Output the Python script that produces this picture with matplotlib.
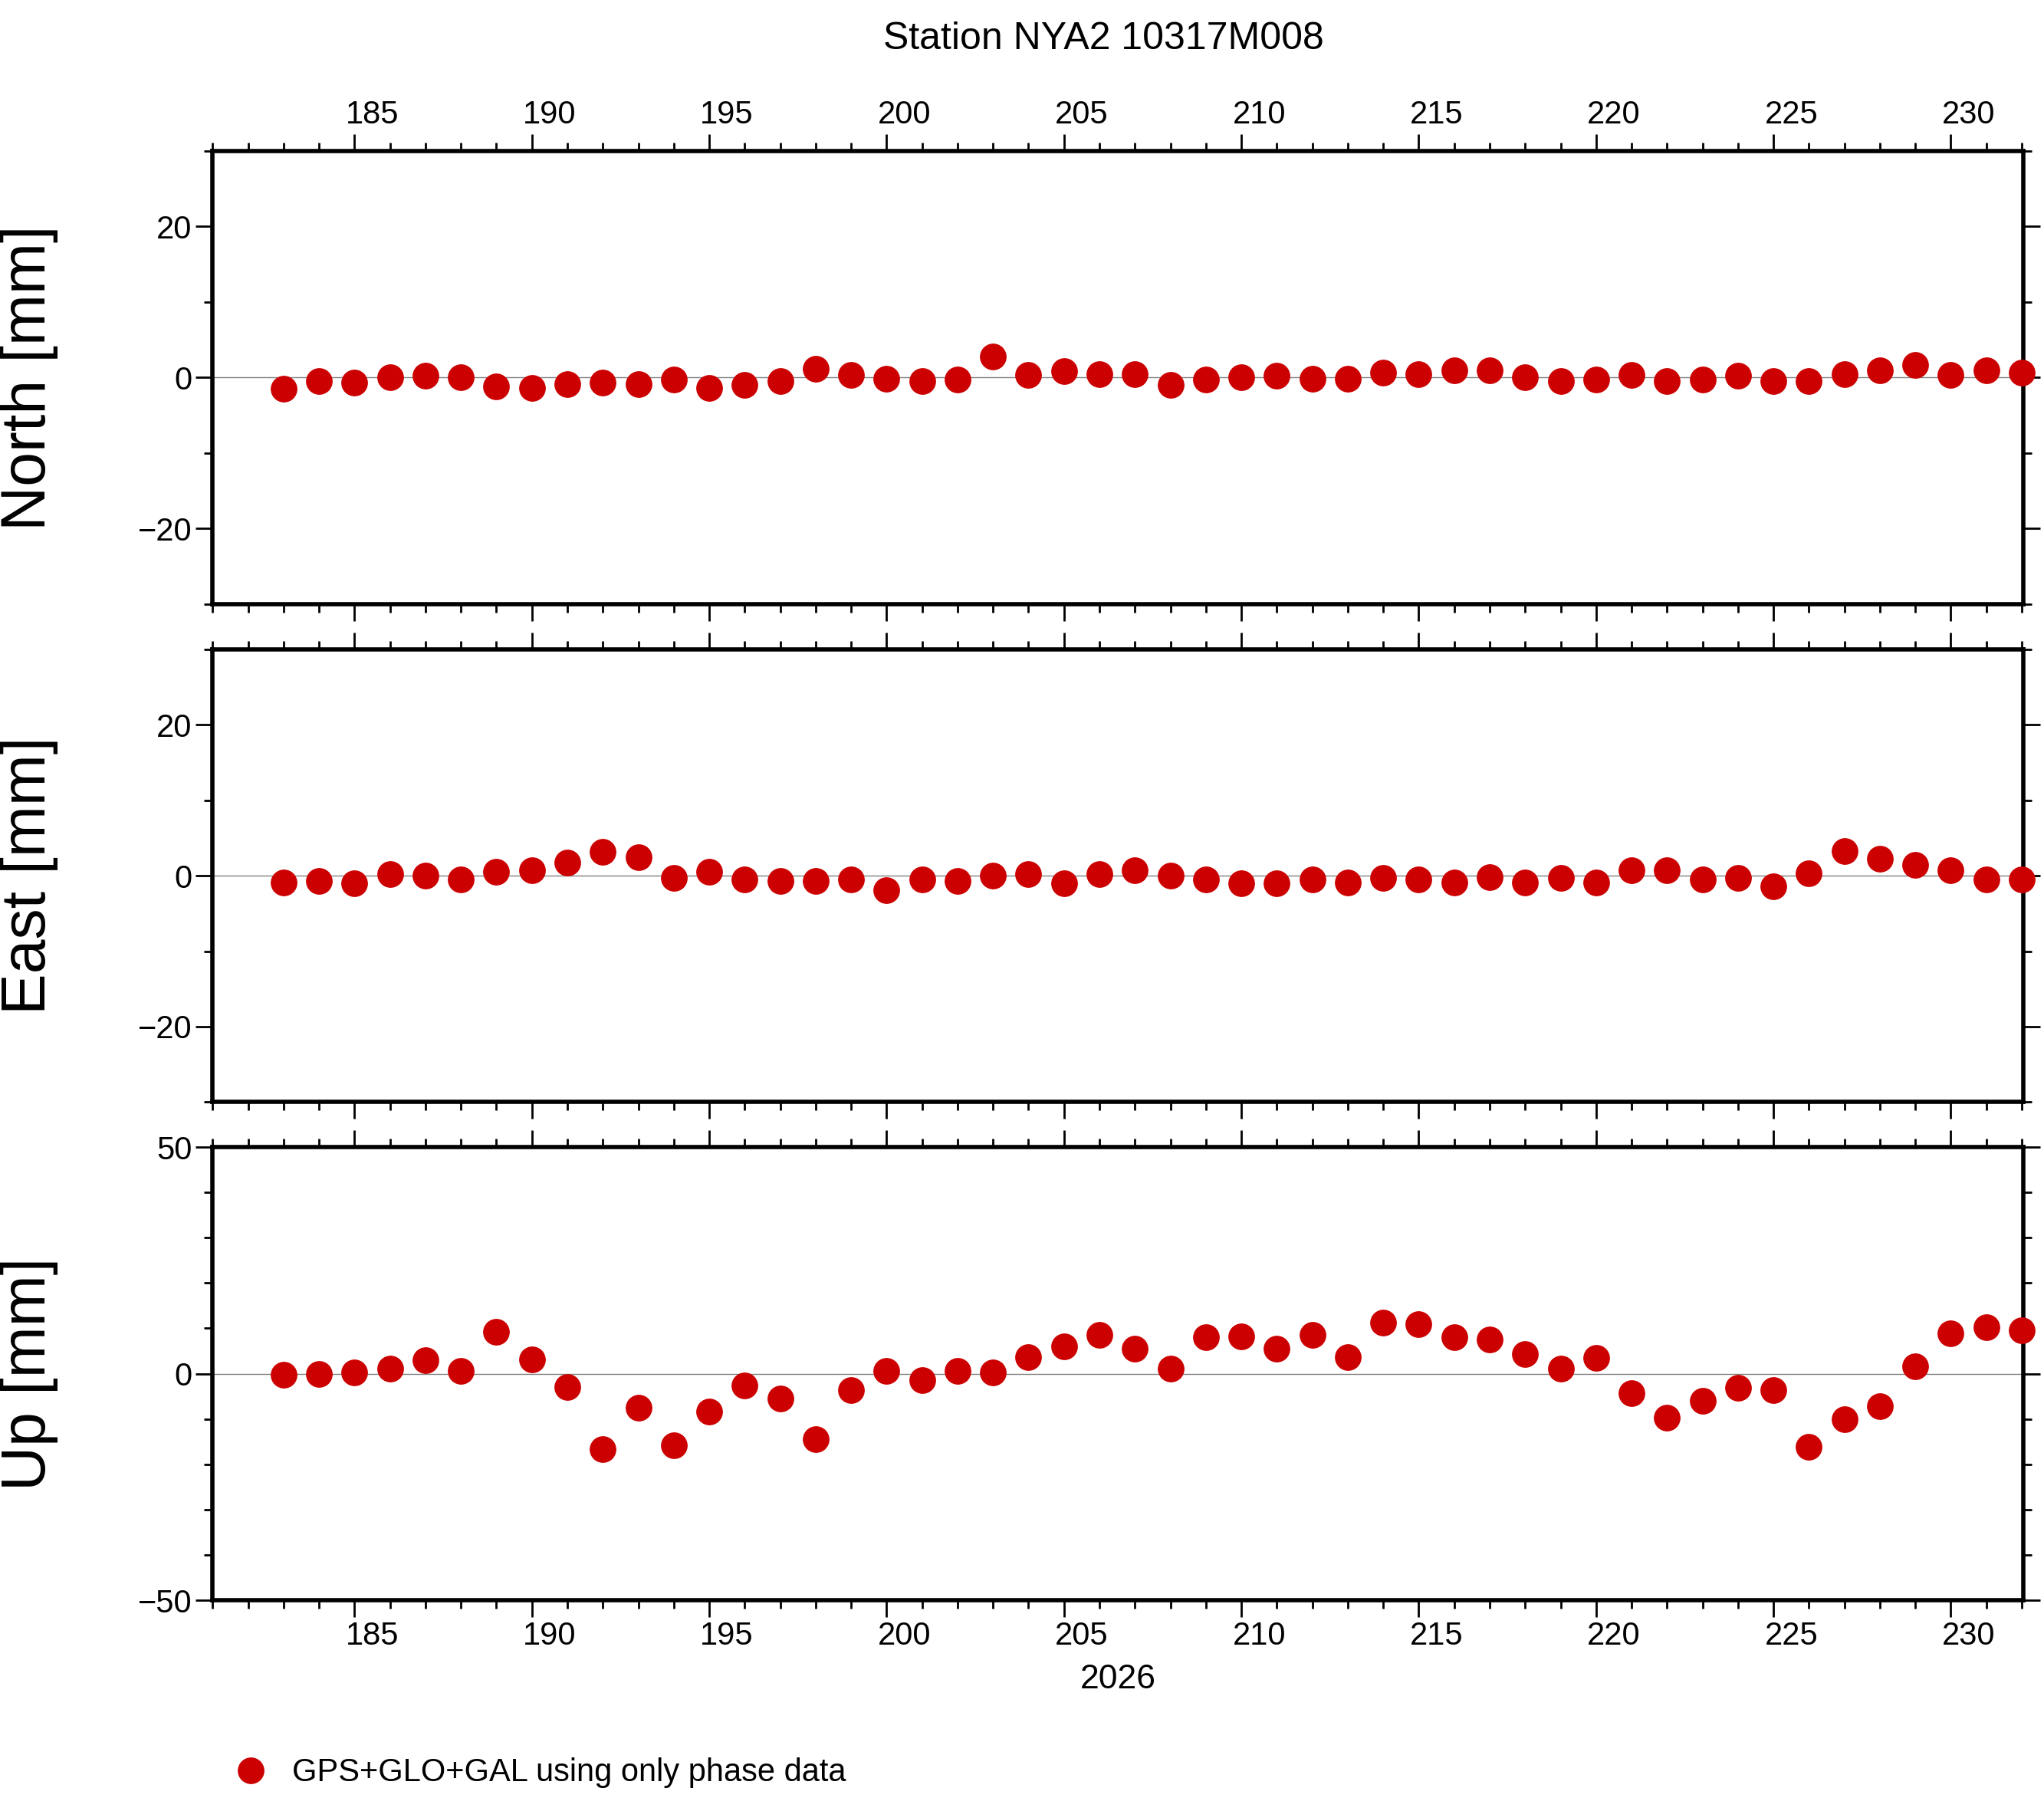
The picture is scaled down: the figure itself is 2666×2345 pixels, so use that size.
import numpy as np
import matplotlib.pyplot as plt
from matplotlib.lines import Line2D
import matplotlib.transforms as mtrans

plt.rcParams['font.family'] = ['Liberation Sans', 'DejaVu Sans']

days = list(range(183, 233))
north = [-1.5, -0.5, -0.7, 0.0, 0.2, 0.0, -1.2, -1.4, -0.9, -0.7, -0.9, -0.3, -1.4, -1.0, -0.5,
         1.2, 0.3, -0.2, -0.5, -0.3, 2.8, 0.3, 0.9, 0.5, 0.5, -1.0, -0.3, 0.0, 0.2, -0.2,
         -0.2, 0.7, 0.5, 1.0, 1.0, 0.0, -0.5, -0.3, 0.3, -0.5, -0.3, 0.2, -0.5, -0.5, 0.5,
         1.0, 1.7, 0.3, 1.0, 0.7]
east = [-0.9, -0.7, -1.0, 0.2, 0.0, -0.5, 0.5, 0.7, 1.7, 3.1, 2.4, -0.3, 0.5, -0.5, -0.7,
        -0.7, -0.5, -1.9, -0.5, -0.7, 0.0, 0.2, -1.0, 0.2, 0.7, 0.0, -0.5, -1.0, -1.0, -0.5,
        -0.9, -0.3, -0.5, -0.9, -0.2, -0.9, -0.3, -0.9, 0.7, 0.7, -0.5, -0.3, -1.4, 0.3, 3.3,
        2.2, 1.4, 0.7, -0.5, -0.5]
up = [-0.3, 0.0, 0.3, 1.1, 2.9, 0.6, 9.2, 3.2, -2.9, -16.7, -7.5, -15.8, -8.3, -2.6, -5.5,
      -14.4, -3.7, 0.6, -1.4, 0.6, 0.3, 3.7, 6.0, 8.6, 5.5, 1.1, 8.0, 8.3, 5.5, 8.6,
      3.7, 11.2, 10.9, 8.0, 7.5, 4.3, 1.1, 3.4, -4.3, -9.8, -6.0, -3.2, -3.7, -16.1, -10.1,
      -7.2, 1.7, 8.9, 10.3, 9.5]
label_days = list(range(185, 231, 5))

red = '#cc0000'
fig = plt.figure(figsize=(26.66, 23.45), dpi=100)
left, width = 0.104, 0.886
panels = [
    ('North [mm]', north, 0.664, (-30, 30), [-20, 0, 20]),
    ('East [mm]', east, 0.387, (-30, 30), [-20, 0, 20]),
    ('Up [mm]', up, 0.110, (-50, 50), [-50, 0, 50]),
]
for i, (name, vals, bottom, ylim, majors) in enumerate(panels):
    ax = fig.add_axes([left, bottom, width, 0.252])
    ax.axhline(0, color='gray', lw=1)
    ax.plot(days, vals, 'o', color=red, ms=24, clip_on=False, zorder=3)
    ax.set_xlim(181, 232.05)
    ax.set_ylim(*ylim)
    ax.set_xticks(range(185, 231, 5))
    ax.set_xticks(range(181, 233), minor=True)
    ax.set_yticks(majors)
    ax.set_yticks(range(ylim[0], ylim[1] + 1, 10), minor=True)
    ax.set_yticklabels([str(v).replace('-', '\u2212') for v in majors])
    ax.set_xticklabels([])
    ax.tick_params(which='both', direction='out', top=True, right=True, labelsize=30, width=2)
    ax.tick_params(which='major', length=16)
    ax.tick_params(which='minor', length=8)
    for s in ax.spines.values():
        s.set_linewidth(4)
    ax.set_ylabel(name, fontsize=58)
    ax.yaxis.set_label_coords(-0.085, 0.5)
    trans = mtrans.blended_transform_factory(ax.transData, ax.transAxes)
    if i == 0:
        for d in label_days:
            ax.text(d + 0.5, 1.045, str(d), transform=trans, ha='center', va='bottom', fontsize=30)
    if i == 2:
        for d in label_days:
            ax.text(d + 0.5, -0.045, str(d), transform=trans, ha='center', va='top', fontsize=30)
        ax.text(0.5, -0.14, '2026', transform=ax.transAxes, ha='center', va='top', fontsize=32)

fig.text(0.54, 0.988, 'Station NYA2 10317M008', ha='center', va='top', fontsize=36)
handle = Line2D([], [], marker='o', ls='', color=red, ms=24)
fig.legend([handle], ['GPS+GLO+GAL using only phase data'], loc='center left',
           bbox_to_anchor=(0.093, 0.014), frameon=False, fontsize=30, handletextpad=0.3)
fig.savefig('out.png', dpi=100)
